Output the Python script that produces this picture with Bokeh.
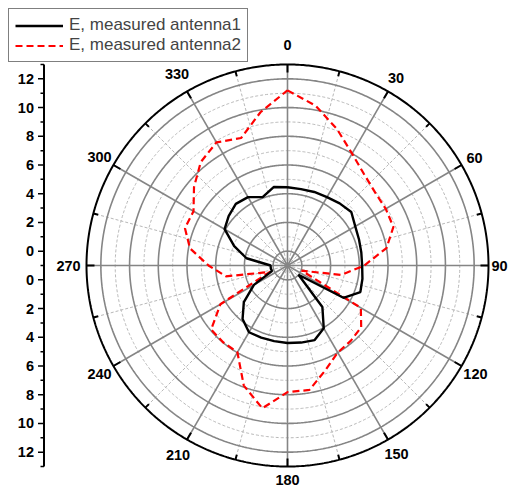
import numpy as np
from bokeh.plotting import figure
from bokeh.models import Range1d, Legend, LegendItem
from bokeh.core.properties import value
from bokeh.embed import file_html
from bokeh.resources import INLINE

# ---- data (degrees clockwise from north, radial values) ----
angles_deg = [0, 10, 20, 30, 40, 50, 60, 70, 80, 90, 100, 110, 120, 130, 140, 150, 160, 170,
              180, 190, 200, 210, 220, 230, 240, 250, 260, 270, 280, 290, 300, 310, 320, 330, 340, 350]
antenna1 = [4.45, 4.4, 4.45, 4.5, 4.65, 4.8, 4.45, 4.3, 4.22, 4.2, 4.3, 4.4, 3.5, 0.0, 2.78, 4.05, 4.53, 4.45,
            4.4, 4.35, 4.35, 4.37, 3.87, 2.97, 1.7, 0.15, 0.18, 0.18, 1.9, 2.95, 4.06, 4.35, 4.6, 4.5, 4.07, 4.55]
antenna2 = [11.2, 10.3, 9.1, 8.0, 7.3, 6.95, 6.9, 6.85, 6.0, 4.35, 2.8, 0.05, 4.9, 5.7, 5.85, 6.0, 6.75, 7.8,
            7.82, 9.1, 7.9, 5.98, 5.98, 5.94, 4.4, 0.3, 3.35, 4.5, 5.9, 6.6, 6.56, 7.5, 8.4, 8.9, 8.45, 9.84]
label1 = "E, measured antenna1"
label2 = "E, measured antenna2"

r_min, r_max = -1, 13
r_ticks = [0, 2, 4, 6, 8, 10, 12]
angle_ticks = [0, 30, 60, 90, 120, 150, 180, 210, 240, 270, 300, 330]

# ---- geometry (styling) ----
W, H = 511, 489
CX, CY = 287, 265          # centre in figure pixels (from top-left)
RPX = 201.0                # outer radius in pixels
SPAN = r_max - r_min
S = RPX / SPAN             # pixels per data unit
label_radius_px = [221, 217, 216, 212, 217, 218, 214, 219, 217, 219, 217, 221]

def rr(v):
    return np.asarray(v, dtype=float) - r_min

def polar_xy(ang, v):
    t = np.radians(np.asarray(ang, dtype=float))
    r = rr(v)
    return r * np.sin(t), r * np.cos(t)

p = figure(width=W, height=H, output_backend="svg", toolbar_location=None,
           x_range=Range1d(-CX / S, (W - CX) / S), y_range=Range1d(-(H - CY) / S, CY / S),
           min_border=0, min_border_left=0, min_border_right=0, min_border_top=0, min_border_bottom=0)
p.axis.visible = False
p.grid.visible = False
p.outline_line_color = None
p.background_fill_color = "white"
p.border_fill_color = "white"

th = np.radians(np.linspace(0, 360, 721))
SOLID = "#858585"
DASH = "#b8b8b8"

# dashed circles (odd values)
xs, ys = [], []
for v in range(r_min + 2, r_max, 2):
    xs.append(list(rr(v) * np.sin(th))); ys.append(list(rr(v) * np.cos(th)))
p.multi_line(xs, ys, line_color=DASH, line_width=1, line_dash="3 2")

# dashed spokes (15 deg offsets)
xs, ys = [], []
for a in range(15, 360, 30):
    t = np.radians(a)
    xs.append([0, SPAN * np.sin(t)]); ys.append([0, SPAN * np.cos(t)])
p.multi_line(xs, ys, line_color=DASH, line_width=1, line_dash="3 2")

# solid circles (even values)
xs, ys = [], []
for v in r_ticks:
    xs.append(list(rr(v) * np.sin(th))); ys.append(list(rr(v) * np.cos(th)))
p.multi_line(xs, ys, line_color=SOLID, line_width=1.6)

# solid spokes
xs, ys = [], []
for a in angle_ticks:
    t = np.radians(a)
    xs.append([0, SPAN * np.sin(t)]); ys.append([0, SPAN * np.cos(t)])
p.multi_line(xs, ys, line_color=SOLID, line_width=1.6)

# outer circle
p.line(list(SPAN * np.sin(th)), list(SPAN * np.cos(th)), line_color="black", line_width=2)

# outer ticks (inward)
x0, y0, x1, y1 = [], [], [], []
for a in range(0, 360, 15):
    t = np.radians(a)
    L = (8 if a % 30 == 0 else 5) / S
    x0.append(SPAN * np.sin(t)); y0.append(SPAN * np.cos(t))
    x1.append((SPAN - L) * np.sin(t)); y1.append((SPAN - L) * np.cos(t))
p.segment(x0, y0, x1, y1, line_color="black", line_width=2)

# angle labels
p.text(x=[lr / S * np.sin(np.radians(a)) for a, lr in zip(angle_ticks, label_radius_px)],
       y=[lr / S * np.cos(np.radians(a)) for a, lr in zip(angle_ticks, label_radius_px)],
       text=[str(a) for a in angle_ticks],
       text_font=value("Liberation Sans"), text_font_style="bold", text_font_size="14.5px",
       text_align="center", text_baseline="middle", text_color="black")

# data curves
a1 = angles_deg + [angles_deg[0]]
x1d, y1d = polar_xy(a1, antenna1 + [antenna1[0]])
x2d, y2d = polar_xy(a1, antenna2 + [antenna2[0]])
ren2 = p.line(list(x2d), list(y2d), line_color="red", line_width=2.2, line_dash="7 4")
ren1 = p.line(list(x1d), list(y1d), line_color="black", line_width=2.4)

# left radial axis (mirrored)
AX = (43.5 - CX) / S
p.segment([AX], [-SPAN], [AX], [SPAN], line_color="black", line_width=2)
major_pos = [float(rr(v)) for v in r_ticks] + [-float(rr(v)) for v in r_ticks]
p.segment([AX - 6 / S] * len(major_pos), major_pos, [AX] * len(major_pos), major_pos,
          line_color="black", line_width=1.5)
minor_vals = [v for v in range(r_min, r_max + 1) if v not in r_ticks]
minor_pos = sorted(set([float(rr(v)) for v in minor_vals] + [-float(rr(v)) for v in minor_vals]))
p.segment([AX - 3.5 / S] * len(minor_pos), minor_pos, [AX] * len(minor_pos), minor_pos,
          line_color="black", line_width=1.5)
p.text(x=[AX - 10 / S] * len(major_pos), y=major_pos,
       text=[str(v) for v in r_ticks] * 2,
       text_font=value("Liberation Sans"), text_font_style="bold", text_font_size="14.5px",
       text_align="right", text_baseline="middle", text_color="black")

legend = Legend(items=[LegendItem(label=label1, renderers=[ren1]),
                       LegendItem(label=label2, renderers=[ren2])],
                location="top_left")
legend.margin = 8
legend.padding = 6
legend.spacing = 0
legend.glyph_width = 48
legend.glyph_height = 17
legend.label_height = 17
legend.label_standoff = 6
legend.label_text_font = "Liberation Sans"
legend.label_text_font_size = "17px"
legend.border_line_color = "black"
legend.border_line_width = 1
legend.background_fill_alpha = 1
p.add_layout(legend)

open("out.html", "w").write(file_html(p, INLINE))
